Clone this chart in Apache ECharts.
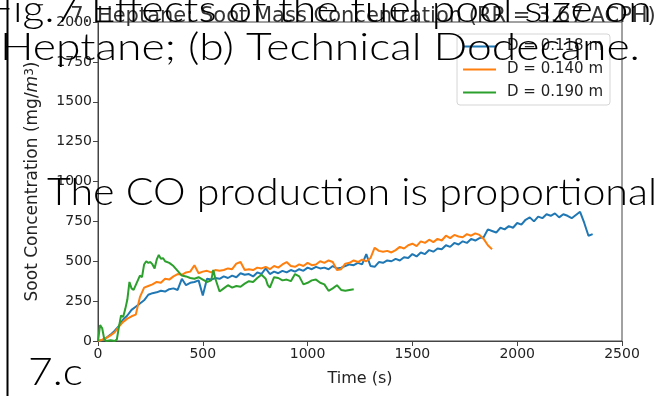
<!DOCTYPE html>
<html>
<head>
<meta charset="utf-8">
<script src="https://cdn.jsdelivr.net/npm/echarts@6/dist/echarts.min.js"></script>
<style>html,body{margin:0;padding:0;background:#fff}#c{width:664px;height:396px}</style>
</head>
<body>
<div id="c"></div>
<script>
// ---- data ----
const seriesNames = ['D = 0.118 m', 'D = 0.140 m', 'D = 0.190 m'];
const xTicks = [0, 500, 1000, 1500, 2000, 2500];
const yTicks = [0, 250, 500, 750, 1000, 1250, 1500, 1750, 2000];
const sampleStep = 20; // s, sampling interval of blue & orange records

const blueValues = [
  0,5,20,40,65, 95,135,160,195,215, 235,255,290,300,305, 315,310,325,330,320,
  390,350,365,370,380, 285,390,385,395,390, 405,395,410,400,425, 415,420,405,430,420,
  455,420,435,425,440, 430,445,435,450,440, 460,450,465,455,460, 450,470,455,460,470,
  480,475,490,480,545, 470,465,495,490,505, 500,515,505,525,520, 545,530,555,545,570,
  560,580,575,600,590, 615,605,625,615,640, 630,645,650,700,690, 680,710,700,720,710,
  740,730,760,775,750, 780,770,795,785,800, 775,795,785,770,790, 810,740,660,670
];
const orangeValues = [
  0,8,20,35,55, 90,120,140,155,165, 275,335,345,355,370, 365,390,385,405,420,
  415,430,435,475,425, 435,440,430,445,440, 445,455,450,485,495, 445,450,445,460,455,
  465,450,470,460,480, 495,470,465,480,470, 490,475,480,500,490, 505,495,445,450,485,
  490,505,495,510,500, 520,585,565,560,565, 555,570,590,580,600, 610,595,625,615,635,
  620,640,630,660,645, 665,655,650,670,660, 675,665,640,600,575
];
const greenTimes = [
  0,10,20,30,40, 60,80,90,100,110, 120,130,140,150,160, 170,180,190,200,210,
  220,230,240,250,260, 270,280,290,300,310, 320,340,360,380,400, 420,440,460,480,500,
  520,540,550,560,580, 600,620,640,660,680, 700,720,740,760,780, 800,810,820,840,860,
  880,900,920,940,960, 980,1000,1020,1040,1060, 1080,1100,1120,1140,1160, 1180,1200,1220
];
const greenValues = [
  0,100,80,10,0, 5,0,10,90,160, 150,200,260,370,330, 320,350,380,410,400,
  480,500,490,495,480, 455,510,540,515,520, 500,490,470,440,410, 405,395,390,400,385,
  370,380,445,390,310, 330,350,335,345,340, 360,375,370,395,415, 390,350,335,400,395,
  380,385,375,420,405, 355,365,380,385,365, 355,315,330,350,320, 315,320,325
];
const titleText = '7. Heptane: Soot Mass Concentration (RR = 3.67 ACPH)';
const overlayLines = [
  'Fig.7 Effects of the fuel pool size on',
  'Heptane; (b) Technical Dodecane.',
  'The CO production is proportional',
  '7.c'
];

// ---- build ----
const toPairs = (ts, vs) => vs.map((v, i) => [ts[i], v]);
const blueData = toPairs(blueValues.map((_, i) => i * sampleStep), blueValues);
const orangeData = toPairs(orangeValues.map((_, i) => i * sampleStep), orangeValues);
const greenData = toPairs(greenTimes, greenValues);

const OV_FONT = 'Lato';
const OV_SIZE = 38;
const cv = document.createElement('canvas').getContext('2d');
cv.font = '300 ' + OV_SIZE + 'px ' + OV_FONT;
const sx2 = 640 / cv.measureText(overlayLines[1]).width;
const sx3 = 610 / cv.measureText(overlayLines[2]).width;
const sxm = (sx2 + sx3) / 2;

function ovText(txt, x, y, sx) {
  return { type: 'text', x: x, y: y, scaleX: sx, z: 100, silent: true,
    style: { text: txt, fontSize: OV_SIZE, fontFamily: OV_FONT, fontWeight: 300,
             fill: '#000', verticalAlign: 'top', align: 'left' } };
}

const font = 'DejaVu Sans';
const chart = echarts.init(document.getElementById('c'), null, { renderer: 'canvas' });
chart.setOption({
  animation: false,
  backgroundColor: '#fff',
  title: { text: titleText, left: 358, textAlign: 'center', top: 1,
    textStyle: { fontFamily: font, fontSize: 21, fontWeight: 'normal', color: '#333' } },
  grid: { left: 98, right: 42, top: 22, bottom: 55, show: true, borderColor: '#444', borderWidth: 1, containLabel: false },
  legend: {
    data: seriesNames, orient: 'vertical', top: 34, right: 54, icon: 'rect',
    itemWidth: 33, itemHeight: 2, itemGap: 8, padding: [5, 7, 5, 6],
    backgroundColor: 'rgba(255,255,255,0.8)', borderColor: '#d5d5d5', borderWidth: 1, borderRadius: 3,
    textStyle: { fontFamily: font, fontSize: 15, color: '#222', lineHeight: 14, padding: [0, 0, 0, 6] }
  },
  xAxis: {
    type: 'value', min: 0, max: 2500, interval: 500,
    name: 'Time (s)', nameLocation: 'middle', nameGap: 30,
    nameTextStyle: { fontFamily: font, fontSize: 16, color: '#222' },
    axisLine: { show: true, lineStyle: { color: '#444', width: 1 } },
    axisTick: { show: true, length: 5, lineStyle: { color: '#444' } },
    axisLabel: { fontFamily: font, fontSize: 14, color: '#222', margin: 6,
      formatter: v => xTicks.includes(v) ? String(v) : '' },
    splitLine: { show: false }
  },
  yAxis: {
    type: 'value', min: 0, max: 2000, interval: 250,
    name: '{a|Soot Concentration (mg/}{i|m}{s|3}{a|)}', nameLocation: 'middle', nameGap: 56,
    nameTextStyle: { fontFamily: font, fontSize: 17, color: '#222',
      rich: { a: { fontFamily: font, fontSize: 17, color: '#222' },
              i: { fontFamily: font, fontSize: 17, fontStyle: 'italic', color: '#222' },
              s: { fontFamily: font, fontSize: 12, color: '#222', verticalAlign: 'top', padding: [0, 0, 6, 0] } } },
    axisLine: { show: true, lineStyle: { color: '#444', width: 1 } },
    axisTick: { show: true, length: 5, lineStyle: { color: '#444' } },
    axisLabel: { fontFamily: font, fontSize: 14, color: '#222', margin: 6,
      formatter: v => yTicks.includes(v) ? String(v) : '' },
    splitLine: { show: false }
  },
  series: [
    { name: seriesNames[0], type: 'line', data: blueData, showSymbol: false, color: '#1f77b4', lineStyle: { width: 2 } },
    { name: seriesNames[1], type: 'line', data: orangeData, showSymbol: false, color: '#ff7f0e', lineStyle: { width: 2 } },
    { name: seriesNames[2], type: 'line', data: greenData, showSymbol: false, color: '#2ca02c', lineStyle: { width: 2 } }
  ],
  graphic: [
    { type: 'rect', shape: { x: 6.5, y: 0, width: 2, height: 396 }, style: { fill: '#000' }, z: 100, silent: true },
    ovText(overlayLines[0], -11, -9, sxm),
    ovText(overlayLines[1], 0, 29, sx2),
    ovText(overlayLines[2], 47, 174, sx3),
    ovText(overlayLines[3], 28, 354, sxm)
  ]
});
</script>
</body>
</html>
